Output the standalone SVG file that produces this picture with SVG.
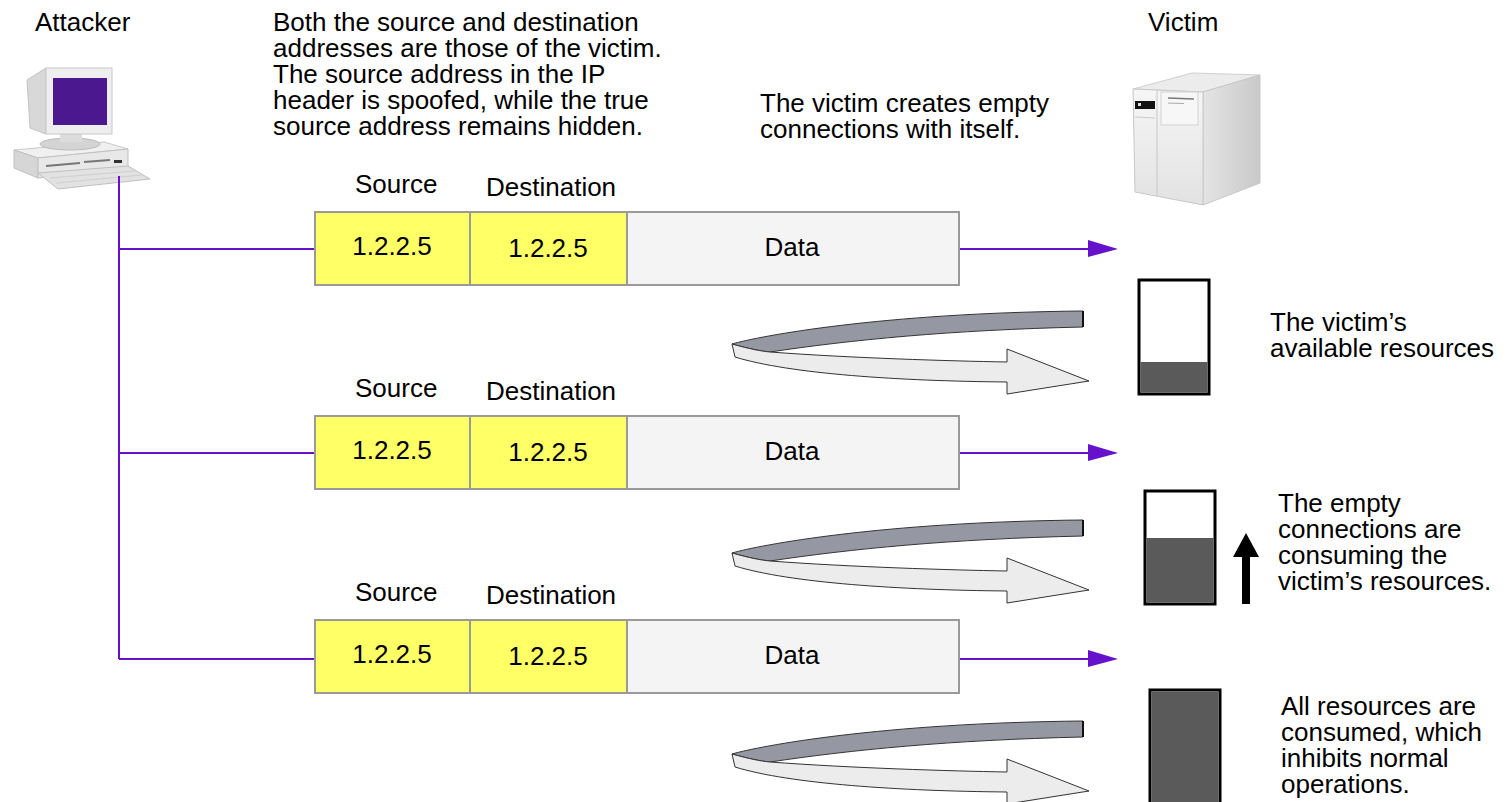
<svg xmlns="http://www.w3.org/2000/svg" width="1506" height="802" viewBox="0 0 1506 802">
  <defs>
    <style>
      text{font-family:"Liberation Sans",Arial,Helvetica,sans-serif;font-size:26px;fill:#000}
      .mid{text-anchor:middle}
      .cell{stroke:#9a9a9a;stroke-width:2}
      .yel{fill:#ffff66}
      .data{fill:#f4f4f4}
      .wire{stroke:#6611cc;stroke-width:2;fill:none}
      .head{fill:#6611cc}
      .back{fill:#9598a3;stroke:#333;stroke-width:1}
      .front{fill:#ececec;stroke:#333;stroke-width:1}
      .edge{stroke:#111;stroke-width:2}
      .bar{fill:#fff;stroke:#000;stroke-width:3}
      .used{fill:#5a5a5a}
    </style>
    <linearGradient id="srvSide" x1="0" y1="0" x2="1" y2="0">
      <stop offset="0" stop-color="#e4e4e4"/>
      <stop offset="1" stop-color="#c9c9c9"/>
    </linearGradient>
    <linearGradient id="srvFront" x1="0" y1="0" x2="0" y2="1">
      <stop offset="0" stop-color="#f6f6f6"/>
      <stop offset="1" stop-color="#e2e2e2"/>
    </linearGradient>
    <!-- twisted ribbon arrow: dark back side, light front side with head -->
    <g id="loop">
      <path class="back" d="M1083,311 C880,313 760,336 732,344 C750,349 760,351 770,352 C850,340 950,330 1083,327 Z"/>
      <path class="front" d="M732,344 C750,349 760,351 770,352 C850,358 950,361 1007,362 L1007,349 L1089,381 L1007,394 L1007,382 C900,381 790,374 735,357 Z"/>
      <line class="edge" x1="1083" y1="311" x2="1083" y2="327"/>
    </g>
  </defs>

  <rect width="1506" height="802" fill="#fff"/>

  <!-- attacker workstation -->
  <g id="attacker">
    <text x="35" y="31">Attacker</text>
    <!-- case -->
    <polygon points="14,150 104,142 128,149 38,158" fill="#f0f0f0" stroke="#c8c8c8"/>
    <polygon points="14,150 38,158 38,178 14,168" fill="#d6d6d6" stroke="#c0c0c0"/>
    <polygon points="38,158 128,149 128,168 38,178" fill="#e8e8e8" stroke="#c0c0c0"/>
    <line x1="46" y1="166" x2="80" y2="163" stroke="#777" stroke-width="2"/>
    <line x1="84" y1="162" x2="110" y2="160" stroke="#777" stroke-width="2"/>
    <rect x="114" y="160" width="8" height="3" fill="#333"/>
    <!-- stand -->
    <ellipse cx="70" cy="144" rx="30" ry="6" fill="#d4d4d4" stroke="#bbb"/>
    <rect x="60" y="134" width="22" height="8" fill="#dcdcdc"/>
    <!-- monitor -->
    <polygon points="27,80 46,68 46,134 30,128" fill="#d8d8d8" stroke="#c4c4c4"/>
    <rect x="46" y="68" width="66" height="66" fill="#eeeeee" stroke="#c8c8c8"/>
    <rect x="53" y="78" width="54" height="47" fill="#4b1890"/>
    <!-- keyboard -->
    <polygon points="38,173 128,166 150,179 58,189" fill="#e2e2e2" stroke="#c0c0c0"/>
    <line x1="50" y1="178" x2="135" y2="171" stroke="#cfcfcf"/>
    <line x1="56" y1="183" x2="142" y2="175" stroke="#cfcfcf"/>
  </g>

  <!-- victim server -->
  <g id="victim">
    <text x="1148" y="31">Victim</text>
    <polygon points="1133,89 1203,92 1260,75 1192,73" fill="#ececec" stroke="#d0d0d0"/>
    <polygon points="1203,92 1260,75 1260,183 1203,205" fill="url(#srvSide)" stroke="#c8c8c8"/>
    <polygon points="1133,89 1203,92 1203,205 1135,192" fill="url(#srvFront)" stroke="#c8c8c8"/>
    <line x1="1157" y1="90" x2="1157" y2="196" stroke="#c6c6c6"/>
    <rect x="1135" y="101" width="20" height="8" fill="#111"/>
    <rect x="1138" y="103" width="3" height="3" fill="#ddd"/>
    <line x1="1135" y1="117" x2="1155" y2="118" stroke="#ccc"/>
    <rect x="1161" y="92" width="37" height="33" fill="#f7f7f7" stroke="#d2d2d2"/>
    <line x1="1168" y1="98" x2="1194" y2="99" stroke="#777" stroke-width="1.5"/>
    <line x1="1168" y1="103" x2="1184" y2="103.5" stroke="#aaa"/>
  </g>

  <!-- connectors -->
  <g id="connectors">
    <path class="wire" d="M119,176 V659 M119,249 H315 M119,453 H315 M119,659 H315"/>
    <path class="wire" d="M959,249 H1090 M959,453 H1090 M959,659 H1090"/>
    <polygon class="head" points="1088,240 1118,249 1088,257"/>
    <polygon class="head" points="1088,444 1118,453 1088,461"/>
    <polygon class="head" points="1088,650 1118,659 1088,667"/>
  </g>

  <!-- notes -->
  <g id="notes">
    <text x="273" y="31">Both the source and destination</text>
    <text x="273" y="57">addresses are those of the victim.</text>
    <text x="273" y="83">The source address in the IP</text>
    <text x="273" y="109">header is spoofed, while the true</text>
    <text x="273" y="135">source address remains hidden.</text>
    <text x="760" y="112">The victim creates empty</text>
    <text x="760" y="138">connections with itself.</text>
  </g>

  <!-- packets -->
  <g id="packet1">
    <text x="355" y="193">Source</text>
    <text x="486" y="196">Destination</text>
    <rect class="cell yel" x="315" y="212" width="155" height="73"/>
    <rect class="cell yel" x="470" y="212" width="157" height="73"/>
    <rect class="cell data" x="627" y="212" width="332" height="73"/>
    <text x="392" y="255" class="mid">1.2.2.5</text>
    <text x="548" y="257" class="mid">1.2.2.5</text>
    <text x="792" y="256" class="mid">Data</text>
  </g>
  <g id="packet2" transform="translate(0,204)">
    <text x="355" y="193">Source</text>
    <text x="486" y="196">Destination</text>
    <rect class="cell yel" x="315" y="212" width="155" height="73"/>
    <rect class="cell yel" x="470" y="212" width="157" height="73"/>
    <rect class="cell data" x="627" y="212" width="332" height="73"/>
    <text x="392" y="255" class="mid">1.2.2.5</text>
    <text x="548" y="257" class="mid">1.2.2.5</text>
    <text x="792" y="256" class="mid">Data</text>
  </g>
  <g id="packet3" transform="translate(0,408)">
    <text x="355" y="193">Source</text>
    <text x="486" y="196">Destination</text>
    <rect class="cell yel" x="315" y="212" width="155" height="73"/>
    <rect class="cell yel" x="470" y="212" width="157" height="73"/>
    <rect class="cell data" x="627" y="212" width="332" height="73"/>
    <text x="392" y="255" class="mid">1.2.2.5</text>
    <text x="548" y="257" class="mid">1.2.2.5</text>
    <text x="792" y="256" class="mid">Data</text>
  </g>

  <!-- self-connection loops -->
  <g id="loop1"><use href="#loop"/></g>
  <g id="loop2"><use href="#loop" transform="translate(0,209)"/></g>
  <g id="loop3"><use href="#loop" transform="translate(0,410)"/></g>

  <!-- resource gauges -->
  <g id="gauge1">
    <rect class="bar" x="1139" y="280" width="70" height="114"/>
    <rect class="used" x="1140.5" y="362" width="67" height="30.5"/>
    <text x="1270" y="331">The victim’s</text>
    <text x="1270" y="357">available resources</text>
  </g>
  <g id="gauge2">
    <rect class="bar" x="1145" y="491" width="70" height="113"/>
    <rect class="used" x="1146.5" y="538" width="67" height="64.5"/>
    <polygon points="1246,533 1259,557 1250,557 1250,604 1242,604 1242,557 1233,557" fill="#000"/>
    <text x="1278" y="512">The empty</text>
    <text x="1278" y="538">connections are</text>
    <text x="1278" y="564">consuming the</text>
    <text x="1278" y="590">victim’s resources.</text>
  </g>
  <g id="gauge3">
    <rect class="bar" x="1150" y="690" width="70" height="120"/>
    <rect class="used" x="1151.5" y="691.5" width="67" height="117"/>
    <text x="1281" y="715">All resources are</text>
    <text x="1281" y="741">consumed, which</text>
    <text x="1281" y="767">inhibits normal</text>
    <text x="1281" y="793">operations.</text>
  </g>
</svg>
